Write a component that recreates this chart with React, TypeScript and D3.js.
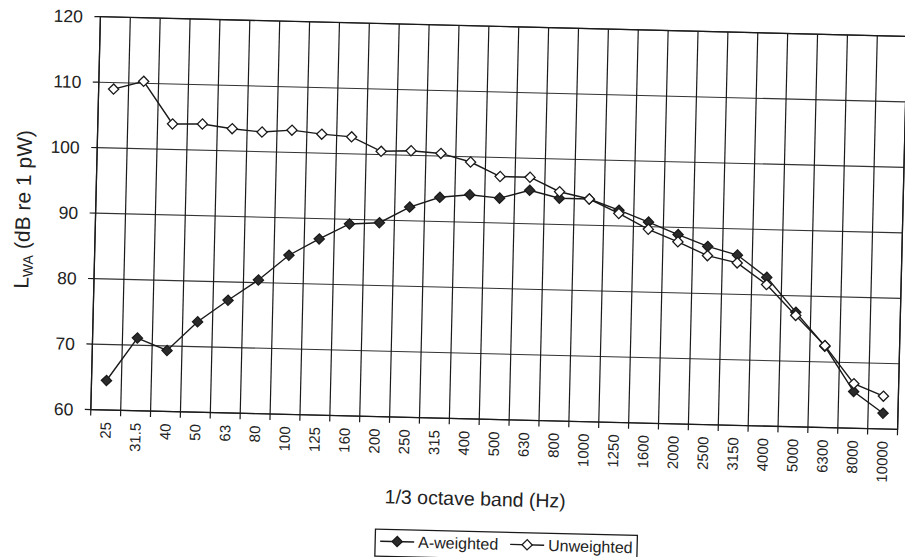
import * as d3 from 'd3'

const categories = ['25', '31.5', '40', '50', '63', '80', '100', '125', '160', '200', '250', '315', '400', '500', '630', '800', '1000', '1250', '1600', '2000', '2500', '3150', '4000', '5000', '6300', '8000', '10000']
const aWeighted = [64.5, 71.1, 69.3, 73.8, 77.2, 80.4, 84.3, 86.9, 89.3, 89.6, 92.1, 93.7, 94.2, 93.8, 95.1, 94.0, 94.0, 92.4, 90.7, 88.9, 87.2, 86.0, 82.7, 77.5, 72.4, 65.6, 62.4]
const unweighted = [109.0, 110.3, 103.9, 104.0, 103.4, 103.0, 103.4, 102.9, 102.6, 100.5, 100.7, 100.4, 99.2, 97.1, 97.1, 95.0, 94.0, 91.9, 89.6, 87.8, 85.8, 84.8, 81.6, 77.0, 72.5, 66.8, 65.0]
const yTicks = [60, 70, 80, 90, 100, 110, 120]

const W = 905
const H = 557
// plot box before the scan tilt
const left = 95.5
const right = 902.5
const top = 26.5
const bottom = 419.5
const tilt = 1.4
const font = "'Liberation Sans', Arial, sans-serif"
const ink = '#1a1a1a'

export default function App() {
  const x = d3.scaleBand<string>().domain(categories).range([left, right]).padding(0)
  const y = d3.scaleLinear().domain([60, 120]).range([bottom, top])
  const cx = (c: string) => (x(c) ?? 0) + x.bandwidth() / 2

  const line = d3
    .line<number>()
    .x((_, i) => cx(categories[i]))
    .y((d) => y(d))

  const diamond = d3.symbol().type(d3.symbolSquare).size(52)()
  const boundaries = categories.map((c) => x(c) ?? 0).concat([right])

  const series = [
    { name: 'A-weighted', values: aWeighted, fill: '#2b2b2b' },
    { name: 'Unweighted', values: unweighted, fill: '#fff' },
  ]

  const legendX = 383
  const legendY = 532

  return (
    <svg width={W} height={H} style={{ position: 'absolute', left: 0, top: 0, background: '#fff' }} fontFamily={font}>
      <rect width={W} height={H} fill="#fff" />
      <g transform={`rotate(${tilt}, 499, 223)`}>
        {/* grid */}
        {yTicks.map((t) => (
          <line key={'h' + t} x1={left} x2={right} y1={y(t)} y2={y(t)} stroke="#333" strokeWidth={1.1} />
        ))}
        {boundaries.map((b, i) => (
          <line key={'v' + i} x1={b} x2={b} y1={top} y2={bottom + 6} stroke={ink} strokeWidth={1.2} />
        ))}
        <rect x={left} y={top} width={right - left} height={bottom - top} fill="none" stroke={ink} strokeWidth={1.3} />

        {/* y axis */}
        {yTicks.map((t) => (
          <g key={'yt' + t}>
            <line x1={left - 6} x2={left} y1={y(t)} y2={y(t)} stroke={ink} strokeWidth={1.2} />
            <text x={78} y={y(t)} dy="0.36em" textAnchor="end" fontSize={17.5} fill="#222">
              {t}
            </text>
          </g>
        ))}
        <text transform={`translate(30, 221) rotate(-90)`} textAnchor="middle" fontSize={21} fill="#222">
          L<tspan fontSize={14} dy={4}>WA</tspan>
          <tspan dy={-4}> (dB re 1 pW)</tspan>
        </text>

        {/* x axis */}
        {categories.map((c) => (
          <text
            key={'xt' + c}
            transform={`translate(${cx(c)}, ${bottom + 12}) rotate(-90)`}
            textAnchor="end"
            dy="0.36em"
            fontSize={15}
            fill="#222"
          >
            {c}
          </text>
        ))}
        <text x={482} y={506} textAnchor="middle" fontSize={19.5} fill="#222">
          1/3 octave band (Hz)
        </text>

        {/* series */}
        {series.map((s) => (
          <g key={s.name}>
            <path d={line(s.values) ?? ''} fill="none" stroke={ink} strokeWidth={1.4} />
            {s.values.map((v, i) => (
              <path
                key={i}
                d={diamond ?? ''}
                transform={`translate(${cx(categories[i])}, ${y(v)}) rotate(45)`}
                fill={s.fill}
                stroke={ink}
                strokeWidth={1.3}
              />
            ))}
          </g>
        ))}

        {/* legend */}
        <rect x={legendX} y={legendY} width={262} height={27} fill="#fff" stroke={ink} strokeWidth={1.3} />
        {series.map((s, i) => {
          const ox = legendX + 5 + i * 130
          const my = legendY + 12
          return (
            <g key={'lg' + s.name}>
              <line x1={ox} x2={ox + 34} y1={my} y2={my} stroke={ink} strokeWidth={1.4} />
              <path d={diamond ?? ''} transform={`translate(${ox + 17}, ${my}) rotate(45)`} fill={s.fill} stroke={ink} strokeWidth={1.3} />
              <text x={ox + 38} y={my} dy="0.36em" fontSize={16} fill="#222">
                {s.name}
              </text>
            </g>
          )
        })}
      </g>
    </svg>
  )
}
